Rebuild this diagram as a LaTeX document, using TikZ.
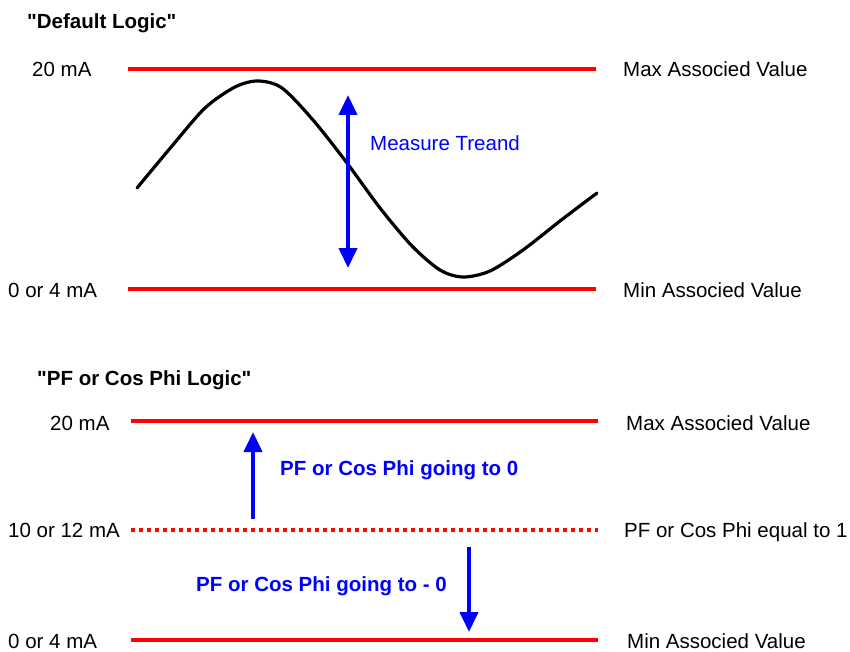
\documentclass[tikz,border=0pt]{standalone}
\usepackage{fontspec}
\newfontfamily\lsans{Liberation Sans}
\usetikzlibrary{arrows.meta}
\tikzset{
  level/.style={red, line width=4.5pt},
  midlevel/.style={red, line width=4pt, dash pattern=on 4pt off 4pt},
  trend/.style={blue, line width=4pt, -{Triangle[width=18pt,length=20pt]}},
  lbl/.style={anchor=base west, inner sep=0pt, font=\lsans\fontsize{20.5}{24}\selectfont},
  ttl/.style={lbl, font=\lsans\fontsize{20.5}{24}\selectfont\bfseries},
  bluelbl/.style={lbl, text=blue},
}
\begin{document}
\begin{tikzpicture}[x=1pt,y=-1pt]
  \useasboundingbox (0,0) rectangle (850,652);
  % Titles
  \node[ttl] (ttlDef) at (27,29)  {"Default Logic"};
  \node[ttl] (ttlPF)  at (37,385) {"PF or Cos Phi Logic"};
  % End points of the level lines: name/y/left x/right x
  \foreach \n/\y/\xa/\xb in {maxA/69/128/596, minA/289/128/596,
                             maxB/421/131/598, midB/530/131/598, minB/640/131/598}{
    \coordinate (\n-l) at (\xa,\y);
    \coordinate (\n-r) at (\xb,\y);
  }
  % Level lines
  \draw[level] (maxA-l) -- (maxA-r);
  \draw[level] (minA-l) -- (minA-r);
  \draw[level] (maxB-l) -- (maxB-r);
  \draw[midlevel] (midB-l) -- (midB-r);
  \draw[level] (minB-l) -- (minB-r);
  % Current labels (left)
  \node[lbl] (curMaxA) at (32,77)  {20 mA};
  \node[lbl] (curMinA) at (8,297)  {0 or 4 mA};
  \node[lbl] (curMaxB) at (50,430) {20 mA};
  \node[lbl] (curMidB) at (8,537)  {10 or 12 mA};
  \node[lbl] (curMinB) at (8,648)  {0 or 4 mA};
  % Value labels (right)
  \node[lbl] (valMaxA) at (623,77)  {Max Associed Value};
  \node[lbl] (valMinA) at (623,297) {Min Associed Value};
  \node[lbl] (valMaxB) at (626,430) {Max Associed Value};
  \node[lbl] (valMidB) at (624,537) {PF or Cos Phi equal to 1};
  \node[lbl] (valMinB) at (627,648) {Min Associed Value};
  % Measured signal
  \draw[black, line width=3.2pt, line cap=round] plot[smooth] coordinates {
    (137,188) (172,146) (205,108) (235,87) (258,81) (282,88) (313,120)
    (347,163) (380,208) (412,246) (440,270) (463,277) (490,271)
    (523,250) (560,221) (597,193)};
  % Trend arrows
  \coordinate (mtTop) at (348,95);
  \coordinate (mtBot) at (348,268);
  \draw[trend, {Triangle[width=18pt,length=20pt]}-{Triangle[width=18pt,length=20pt]}] (mtTop) -- (mtBot);
  \node[bluelbl] (mtLbl) at (370,151) {Measure Treand};
  \coordinate (upFrom) at (253,519);
  \coordinate (upTo)   at (253,432);
  \draw[trend] (upFrom) -- (upTo);
  \node[bluelbl, font=\lsans\fontsize{20.5}{24}\selectfont\bfseries] (upLbl) at (280,475) {PF or Cos Phi going to 0};
  \coordinate (dnFrom) at (469,547);
  \coordinate (dnTo)   at (469,632);
  \draw[trend] (dnFrom) -- (dnTo);
  \node[bluelbl, font=\lsans\fontsize{20.5}{24}\selectfont\bfseries] (dnLbl) at (196,591) {PF or Cos Phi going to - 0};
\end{tikzpicture}
\end{document}
